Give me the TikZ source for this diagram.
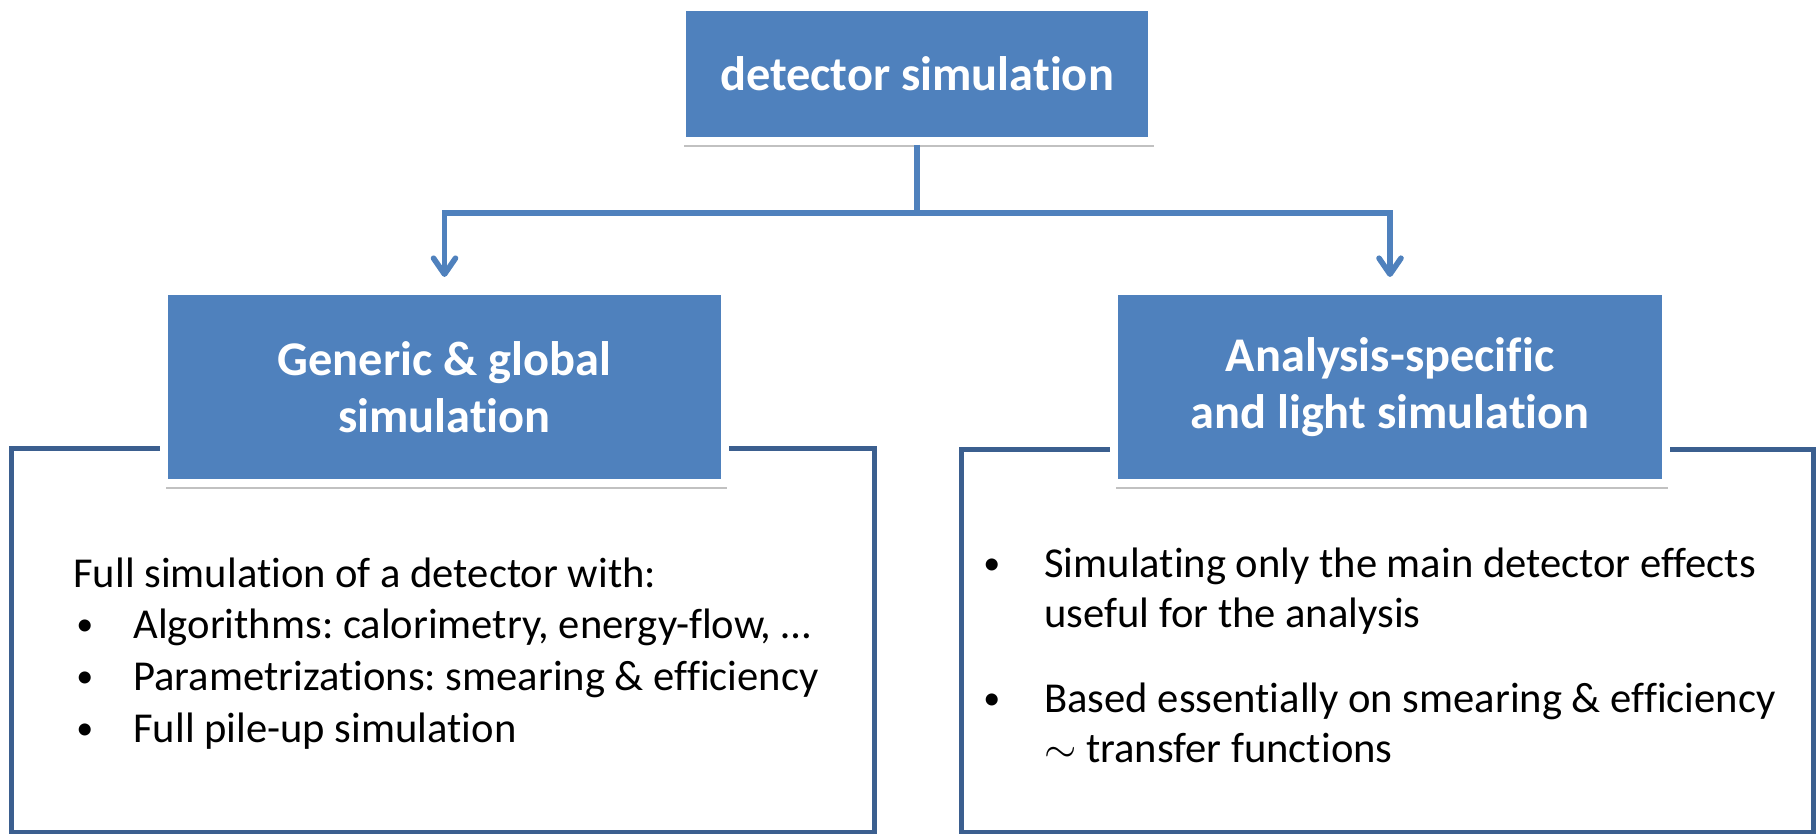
\documentclass[tikz,border=0pt]{standalone}
\usepackage{fontspec}
\setmainfont{Carlito}[Ligatures=NoCommon]
\usetikzlibrary{arrows.meta,shadows}
\definecolor{boxblue}{HTML}{4F81BD}
\definecolor{frameblue}{HTML}{3B5F8F}
\frenchspacing
\newcommand{\mybul}{\raisebox{1.2pt}{\fontsize{17pt}{20pt}\selectfont\textbullet}}
\tikzset{
  bluebox/.style={draw=white, line width=4pt, fill=boxblue, text=white,
    font=\bfseries\fontsize{24.2pt}{28.5pt}\selectfont, align=center, inner sep=0pt,
    drop shadow={shadow xshift=0.8pt, shadow yshift=-2.8pt, opacity=0.35, fill=black!70}},
  framebox/.style={draw=frameblue, line width=2.5pt, inner sep=0pt},
  conn/.style={draw=boxblue, line width=2.8pt},
  arrowconn/.style={conn, -{Straight Barb[length=8pt,width=11pt,round]}, shorten >=5pt},
  bodytext/.style={anchor=base west, inner sep=0pt, font=\fontsize{21.3pt}{25pt}\selectfont, text=black},
}
\begin{document}
\begin{tikzpicture}[x=0.5pt,y=-0.5pt]
\useasboundingbox (0,0) rectangle (1820,834);
% outline frames
\node[framebox, minimum width=431.25pt, minimum height=192pt] (lframe) at (442.75,640.5) {};
\node[framebox, minimum width=426pt, minimum height=191.75pt] (rframe) at (1387,640.75) {};
% boxes
\node[bluebox, minimum width=235pt, minimum height=67pt] (top) at (917,74) {detector simulation};
\node[bluebox, minimum width=280.5pt, minimum height=96pt] (gen) at (444.5,387) {Generic \& global\\simulation};
\node[bluebox, minimum width=276pt, minimum height=96pt] (ana) at (1390,387) {Analysis-specific\\and light simulation};
% connectors
\coordinate (j) at (917,213);
\draw[conn] (top.south) -- (j);
\draw[arrowconn] (j) -| (gen.north);
\draw[arrowconn] (j) -| (ana.north);
% left text
\node[bodytext] (l0) at (73,587) {Full simulation of a detector with:};
\node[bodytext] (l1b) at (76,638) {\mybul};
\node[bodytext] (l1) at (133,638) {Algorithms: calorimetry, energy-flow, …};
\node[bodytext] (l2b) at (76,690) {\mybul};
\node[bodytext] (l2) at (133,690) {Parametrizations: smearing \& efficiency};
\node[bodytext] (l3b) at (76,742) {\mybul};
\node[bodytext] (l3) at (133,742) {Full pile-up simulation};
% right text
\node[bodytext] (r1b) at (983,577) {\mybul};
\node[bodytext] (r1) at (1044,577) {Simulating only the main detector effects};
\node[bodytext] (r1c) at (1044,627) {useful for the analysis};
\node[bodytext] (r2b) at (983,712) {\mybul};
\node[bodytext] (r2) at (1044,712) {Based essentially on smearing \& efficiency};
\node[bodytext] (r2c) at (1044,762) {$\sim$ transfer functions};
\end{tikzpicture}
\end{document}
